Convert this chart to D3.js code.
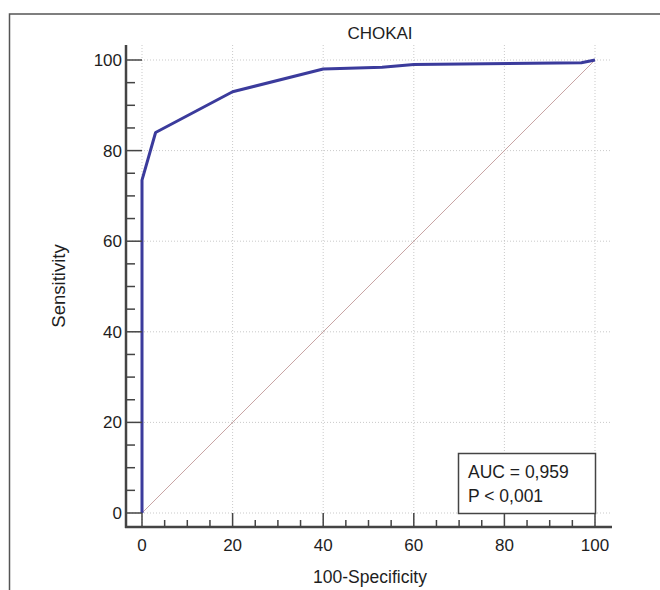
<!DOCTYPE html>
<html>
<head>
<meta charset="utf-8">
<script src="https://cdn.jsdelivr.net/npm/d3@7"></script>
<style>
  body { margin: 0; background: #fff; }
  text { font-family: "Liberation Sans", Arial, sans-serif; fill: #1e1e1e; }
</style>
</head>
<body>
<div class="roc"></div>
<script>
// ROC curve points
var fpr = [0, 0, 3, 20, 40, 53, 60, 97, 100];
var tpr = [0, 73.5, 84, 93, 98, 98.4, 99, 99.4, 100];
var majorTicks = [0, 20, 40, 60, 80, 100];
var chartTitle = "CHOKAI";
var aucLines = ["AUC = 0,959", "P < 0,001"];

var svgWidth = 660;
var svgHeight = 590;

var svg = d3.select(".roc").append("svg").attr("width", svgWidth).attr("height", svgHeight);

// outer frame (cut off at right and bottom)
svg.append("path")
  .attr("d", "M9.5,600 V14 H670")
  .attr("fill", "none")
  .attr("stroke", "#555")
  .attr("stroke-width", 1.5);

var x = d3.scaleLinear().domain([0, 100]).range([142, 595]);
var y = d3.scaleLinear().domain([0, 100]).range([513, 60]);

var axisX = 126, axisY = 527;
var minor = d3.range(0, 101, 5);

// grid
var grid = svg.append("g").attr("stroke", "#bbb").attr("stroke-width", 0.8).attr("stroke-dasharray", "1,2");
grid.selectAll(".gv").data(majorTicks).enter().append("line")
  .attr("x1", d => x(d)).attr("x2", d => x(d))
  .attr("y1", 45).attr("y2", axisY);
grid.selectAll(".gh").data(majorTicks).enter().append("line")
  .attr("y1", d => y(d)).attr("y2", d => y(d))
  .attr("x1", axisX).attr("x2", 612);

// diagonal reference line
svg.append("line")
  .attr("x1", x(0)).attr("y1", y(0)).attr("x2", x(100)).attr("y2", y(100))
  .attr("stroke", "#c29a9a").attr("stroke-width", 0.9);

// ROC curve
var pts = fpr.map((d, i) => [d, tpr[i]]);
svg.append("path")
  .datum(pts)
  .attr("d", d3.line().x(d => x(d[0])).y(d => y(d[1])))
  .attr("fill", "none")
  .attr("stroke", "#3b3b9c")
  .attr("stroke-width", 3)
  .attr("stroke-linejoin", "round");

// axes
var ax = svg.append("g").attr("stroke", "#444");
ax.append("line").attr("x1", axisX).attr("x2", axisX).attr("y1", 45).attr("y2", axisY + 1).attr("stroke-width", 2.5);
ax.append("line").attr("x1", axisX - 1).attr("x2", 612).attr("y1", axisY).attr("y2", axisY).attr("stroke-width", 2.5);

ax.selectAll(".ty").data(minor).enter().append("line")
  .attr("x1", axisX).attr("x2", d => d % 20 === 0 ? x(0) : axisX + 9)
  .attr("y1", d => y(d)).attr("y2", d => y(d))
  .attr("stroke-width", 1.5);
ax.selectAll(".tx").data(minor).enter().append("line")
  .attr("y1", axisY).attr("y2", d => d % 20 === 0 ? y(0) : axisY - 7)
  .attr("x1", d => x(d)).attr("x2", d => x(d))
  .attr("stroke-width", 1.5);

svg.selectAll(".ly").data(majorTicks).enter().append("text")
  .attr("x", axisX - 4).attr("y", d => y(d) + 6)
  .attr("text-anchor", "end").attr("font-size", 17)
  .text(d => d);
svg.selectAll(".lx").data(majorTicks).enter().append("text")
  .attr("x", d => x(d)).attr("y", 551)
  .attr("text-anchor", "middle").attr("font-size", 17)
  .text(d => d);

// titles
svg.append("text").attr("x", 380).attr("y", 39).attr("text-anchor", "middle").attr("font-size", 17).text(chartTitle);
svg.append("text").attr("x", 370).attr("y", 583).attr("text-anchor", "middle").attr("font-size", 17.5).text("100-Specificity");
svg.append("text").attr("transform", "translate(65,286) rotate(-90)").attr("text-anchor", "middle").attr("font-size", 18.5).text("Sensitivity");

// AUC box
svg.append("rect").attr("x", 458.5).attr("y", 453.5).attr("width", 137).attr("height", 60)
  .attr("fill", "#fff").attr("stroke", "#444").attr("stroke-width", 1.5);
svg.selectAll(".auc").data(aucLines).enter().append("text")
  .attr("x", 468).attr("y", (d, i) => 478 + i * 24)
  .attr("font-size", 17.5)
  .text(d => d);
</script>
</body>
</html>
